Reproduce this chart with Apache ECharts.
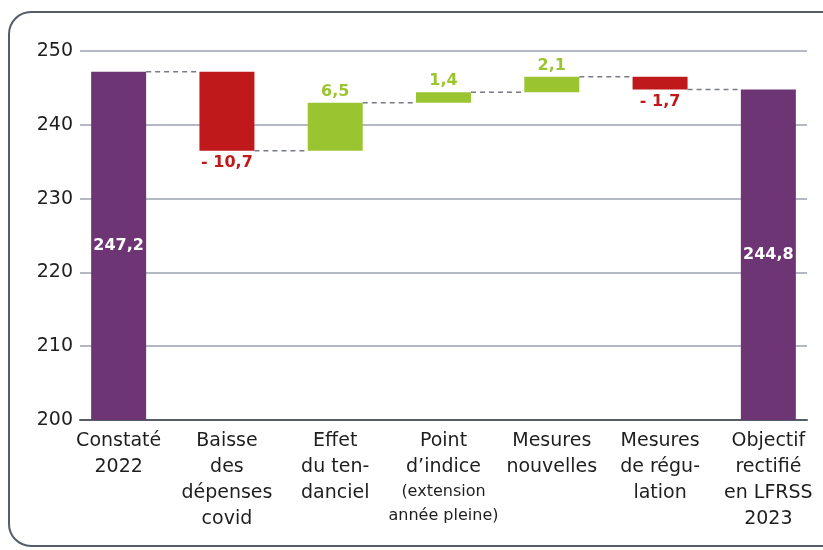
<!DOCTYPE html>
<html>
<head>
<meta charset="utf-8">
<script src="https://cdn.jsdelivr.net/npm/echarts@6/dist/echarts.min.js"></script>
<style>
  html, body { margin: 0; padding: 0; background: #fff; }
  #chart { width: 823px; height: 550px; }
</style>
</head>
<body>
<div id="chart"></div>
<script>
// données du graphique
const categories = [
  'Constaté\n2022',
  'Baisse\ndes\ndépenses\ncovid',
  'Effet\ndu ten-\ndanciel',
  "Point\nd’indice\n{s|(extension}\n{s|année pleine)}",
  'Mesures\nnouvelles',
  'Mesures\nde régu-\nlation',
  'Objectif\nrectifié\nen LFRSS\n2023'
];
// type : 't' = total, 'd' = variation
const kinds = ['t', 'd', 'd', 'd', 'd', 'd', 't'];
const values = [247.2, -10.7, 6.5, 1.4, 2.1, -1.7, 244.8];
const yTicks = [200, 210, 220, 230, 240, 250];

const PURPLE = '#6e3574';
const RED = '#c0191b';
const GREEN = '#9bc431';
const FONT = 'DejaVu Sans';
const BAR_W = 55;

// construction de la cascade
let running = 0;
const base = [], totals = [], ups = [], downs = [], levels = [];
values.forEach((v, i) => {
  if (kinds[i] === 't') {
    running = v;
    base.push('-'); totals.push(v); ups.push('-'); downs.push('-');
  } else if (v >= 0) {
    base.push(running); ups.push(v); downs.push('-'); totals.push('-');
    running += v;
  } else {
    running += v;
    base.push(running); downs.push(-v); ups.push('-'); totals.push('-');
  }
  levels.push(running);
});
const connectors = levels.slice(0, -1).map((lv, i) => [i, lv]);

const fmt = (x) => x.toFixed(1).replace('.', ',');

const chart = echarts.init(document.getElementById('chart'));
chart.setOption({
  animation: false,
  graphic: [{
    type: 'rect',
    shape: { x: 9, y: 12, width: 840, height: 534, r: 22 },
    style: { fill: 'none', stroke: '#555d6b', lineWidth: 2 },
    z: -1
  }],
  grid: [
    { left: 80, right: 16, top: 51, bottom: 130 },
    { left: 64.5, right: 0.5, top: 51, bottom: 130 }
  ],
  xAxis: [
    {
      gridIndex: 0, type: 'value', min: 0, max: 1,
      axisLine: { show: true, lineStyle: { color: '#555d6b', width: 2 } },
      axisTick: { show: false }, axisLabel: { show: false }, splitLine: { show: false }
    },
    {
      gridIndex: 1, type: 'category', data: categories,
      axisLine: { show: false }, axisTick: { show: false },
      axisLabel: {
        interval: 0, margin: 8, color: '#1e1e1e',
        fontFamily: FONT, fontSize: 19, lineHeight: 26, align: 'center',
        rich: { s: { fontFamily: FONT, fontSize: 16, lineHeight: 24, color: '#1e1e1e' } }
      }
    }
  ],
  yAxis: [
    {
      gridIndex: 0, type: 'value', min: 200, max: 250, interval: 10,
      axisLine: { show: false }, axisTick: { show: false },
      axisLabel: { margin: 7, color: '#1e1e1e', fontFamily: FONT, fontSize: 19,
        formatter: (v) => yTicks.includes(v) ? String(v) : '' },
      splitLine: { lineStyle: { color: '#9ba1ae', width: 1.5 } }
    },
    {
      gridIndex: 1, type: 'value', min: 200, max: 250, interval: 10, show: false
    }
  ],
  series: [
    {
      type: 'bar', xAxisIndex: 1, yAxisIndex: 1, stack: 'w', barWidth: BAR_W,
      itemStyle: { color: 'transparent' }, data: base, silent: true
    },
    {
      type: 'bar', xAxisIndex: 1, yAxisIndex: 1, stack: 'w', barWidth: BAR_W,
      itemStyle: { color: PURPLE }, data: totals,
      label: {
        show: true, position: 'inside', color: '#fff', fontFamily: FONT,
        fontWeight: 'bold', fontSize: 16, formatter: (p) => fmt(p.value)
      }
    },
    {
      type: 'bar', xAxisIndex: 1, yAxisIndex: 1, stack: 'w', barWidth: BAR_W,
      itemStyle: { color: GREEN }, data: ups,
      label: {
        show: true, position: 'top', distance: 3, color: GREEN, fontFamily: FONT,
        fontWeight: 'bold', fontSize: 16, formatter: (p) => fmt(p.value)
      }
    },
    {
      type: 'bar', xAxisIndex: 1, yAxisIndex: 1, stack: 'w', barWidth: BAR_W,
      itemStyle: { color: RED }, data: downs,
      label: {
        show: true, position: 'bottom', distance: 4, color: RED, fontFamily: FONT,
        fontWeight: 'bold', fontSize: 16, formatter: (p) => '- ' + fmt(p.value)
      }
    },
    {
      type: 'custom', xAxisIndex: 1, yAxisIndex: 1, data: connectors, z: 1,
      renderItem: function (params, api) {
        const i = api.value(0), lv = api.value(1);
        const a = api.coord([i, lv]);
        const b = api.coord([i + 1, lv]);
        return {
          type: 'line',
          shape: { x1: a[0] + BAR_W / 2, y1: a[1], x2: b[0] - BAR_W / 2, y2: b[1] },
          style: { stroke: '#777b84', lineWidth: 1.5, lineDash: [5, 4] }
        };
      }
    }
  ]
});
</script>
</body>
</html>
